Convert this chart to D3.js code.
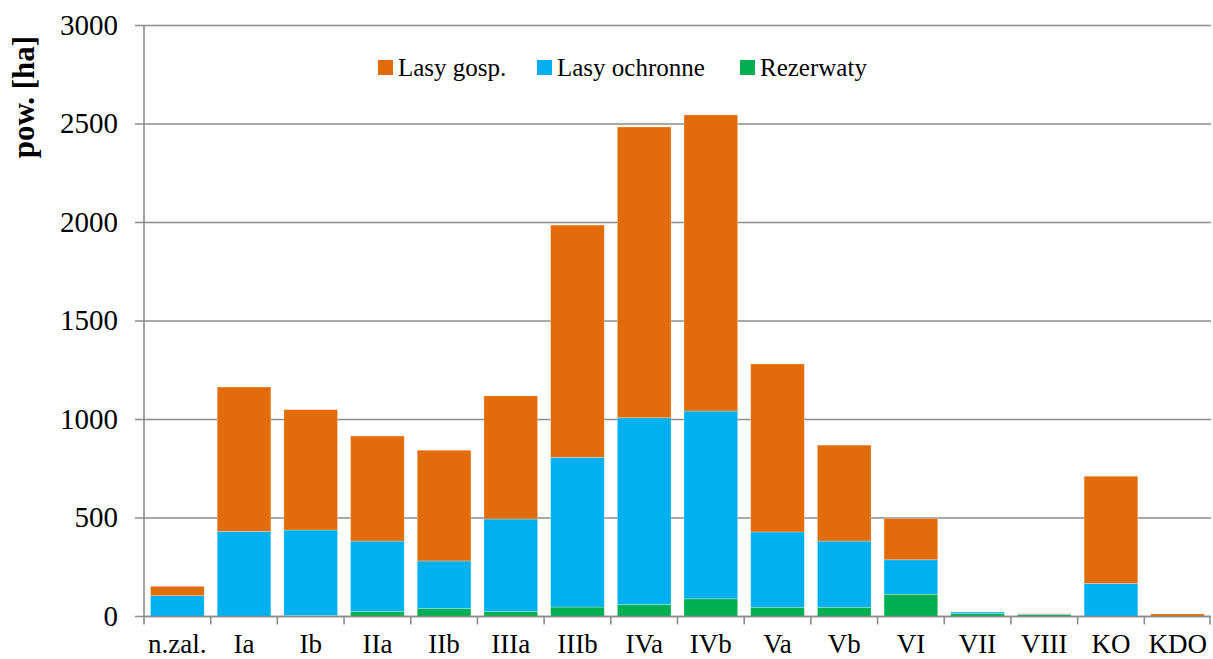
<!DOCTYPE html>
<html>
<head>
	<meta charset="utf-8">
	<title>pow. [ha]</title>
	<style type="text/css">
		body { margin: 0; background: #fff; }
	</style>
</head>
<body>

	<svg width=1213 height=659 class="chart" style="font-family: 'Liberation Serif', 'DejaVu Serif', 'Times New Roman', serif;"></svg>

	<script type="text/javascript" src="https://cdn.jsdelivr.net/npm/d3@7"></script>

	<script type="text/javascript">

		categories = ['n.zal.', 'Ia', 'Ib', 'IIa', 'IIb', 'IIIa', 'IIIb', 'IVa', 'IVb', 'Va', 'Vb', 'VI', 'VII', 'VIII', 'KO', 'KDO']
		// values (ha)
		rezerwaty     = [0, 0, 5, 26, 40, 26, 48, 60, 90, 47, 47, 113, 16, 10, 0, 0]
		lasyOchronne  = [106, 432, 434, 357, 242, 469, 760, 949, 953, 382, 336, 175, 7, 2, 168, 0]
		lasyGosp      = [47, 733, 611, 533, 562, 625, 1179, 1476, 1503, 853, 487, 210, 0, 2, 544, 13]
		seriesNames   = ['Rezerwaty', 'Lasy ochronne', 'Lasy gosp.']
		legendOrder   = ['Lasy gosp.', 'Lasy ochronne', 'Rezerwaty']
		colors = {'Lasy gosp.': '#E36C0A', 'Lasy ochronne': '#00B0F0', 'Rezerwaty': '#00B050'}
		yTicks = [0, 500, 1000, 1500, 2000, 2500, 3000]

		serif = "'Liberation Serif', 'DejaVu Serif', 'Times New Roman', serif"

		margin = {'top': 25.5, 'right': 2, 'bottom': 42.5, 'left': 144}
		svg = d3.select('.chart')
		width = +svg.attr('width') - margin.left - margin.right
		height = +svg.attr('height') - margin.top - margin.bottom

		rows = categories.map(function(c, i) {
			return {'cat': c, 'Rezerwaty': rezerwaty[i], 'Lasy ochronne': lasyOchronne[i], 'Lasy gosp.': lasyGosp[i]}
		})
		stacked = d3.stack().keys(seriesNames)(rows)

		x = d3.scaleBand().domain(categories).range([0, width]).paddingInner(0.195).paddingOuter(0.0975)
		y = d3.scaleLinear().domain([0, 3000]).range([height, 0])

		g = svg.append('g').attr('transform', 'translate(' + margin.left + ',' + margin.top + ')')

		// gridlines
		g.selectAll('.grid')
			.data(yTicks)
			.enter()
			.append('line')
			.attr('x1', -9).attr('x2', width)
			.attr('y1', function(d) { return y(d) }).attr('y2', function(d) { return y(d) })
			.attr('stroke', '#8c8c8c').attr('stroke-width', 1.6)

		// bars
		g.selectAll('.series')
			.data(stacked)
			.enter()
			.append('g')
			.attr('fill', function(d) { return colors[d.key] })
			.selectAll('rect')
			.data(function(d) { return d })
			.enter()
			.append('rect')
			.attr('x', function(d) { return x(d.data.cat) })
			.attr('width', x.bandwidth())
			.attr('y', function(d) { return y(d[1]) })
			.attr('height', function(d) { return y(d[0]) - y(d[1]) })
			.attr('stroke', 'rgba(255,255,255,0.35)')
			.attr('stroke-width', 0.8)

		// y axis line
		g.append('line')
			.attr('x1', 0).attr('x2', 0).attr('y1', 0).attr('y2', height)
			.attr('stroke', '#8c8c8c').attr('stroke-width', 1.6)

		// x axis line and ticks
		g.append('line')
			.attr('x1', 0).attr('x2', width).attr('y1', height).attr('y2', height)
			.attr('stroke', '#8c8c8c').attr('stroke-width', 1.6)

		step = x.step()
		g.selectAll('.xtick')
			.data(d3.range(categories.length + 1))
			.enter()
			.append('line')
			.attr('x1', function(i) { return Math.min(i * step, width - 1) })
			.attr('x2', function(i) { return Math.min(i * step, width - 1) })
			.attr('y1', height).attr('y2', height + 8)
			.attr('stroke', '#8c8c8c').attr('stroke-width', 1.6)

		// y tick labels
		g.selectAll('.ylab')
			.data(yTicks)
			.enter()
			.append('text')
			.attr('x', -26)
			.attr('y', function(d) { return y(d) + 9 })
			.attr('text-anchor', 'end')
			.attr('font-family', serif)
			.attr('font-size', 29)
			.text(function(d) { return d })

		// x tick labels
		g.selectAll('.xlab')
			.data(categories)
			.enter()
			.append('text')
			.attr('x', function(d) { return x(d) + x.bandwidth() / 2 })
			.attr('y', height + 36)
			.attr('text-anchor', 'middle')
			.attr('font-family', serif)
			.attr('font-size', 27)
			.text(function(d) { return d })

		// y axis title
		svg.append('text')
			.attr('transform', 'translate(34,97) rotate(-90)')
			.attr('text-anchor', 'middle')
			.attr('font-family', serif)
			.attr('font-size', 31)
			.attr('font-weight', 'bold')
			.text('pow. [ha]')

		// legend
		legendX = [378, 537, 740]
		leg = svg.selectAll('.legend')
			.data(legendOrder)
			.enter()
			.append('g')
			.attr('transform', function(d, i) { return 'translate(' + legendX[i] + ',0)' })

		leg.append('rect')
			.attr('x', 0).attr('y', 60).attr('width', 15).attr('height', 15)
			.attr('fill', function(d) { return colors[d] })

		leg.append('text')
			.attr('x', 20).attr('y', 76)
			.attr('font-family', serif)
			.attr('font-size', 25)
			.text(function(d) { return d })

	</script>

</body>
</html>
